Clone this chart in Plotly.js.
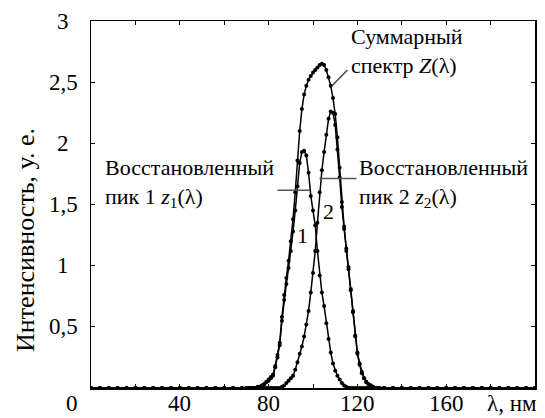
<!DOCTYPE html>
<html>
<head>
<meta charset="utf-8">
<script src="https://cdn.plot.ly/plotly-3.0.1.min.js"></script>
<style>
html,body{margin:0;padding:0;background:#fff;}
#chart{width:545px;height:418px;}
</style>
</head>
<body>
<div id="chart"></div>
<script>
// wavelength, nm
const lambda = [
  0,4,8,12,16,20,24,28,32,36,40,44,48,52,56,60,64,68,
  70,71,72,73,74,75,76,77,78,79,80,81,82,83,84,85,86,87,88,89,
  90,91,92,93,94,95,96,97,98,99,100,101,102,103,104,105,106,107,108,109,
  110,111,112,113,114,115,116,117,118,119,120,121,122,123,124,125,126,127,128,129,130,
  132,136,140,144,148,152,156,160,164,168,172,176,180,184,188,192,196,200
];
// summed spectrum Z(λ)
const sumZ = [
  0,0,0,0,0,0,0,0,0,0,0,0,0,0,0,0,0,0,
  0,0,0,0,0,0.01,0.01,0.02,0.03,0.05,0.07,0.09,0.11,0.18,0.27,0.37,0.58,0.76,0.9,1.04,
  1.2,1.38,1.6,1.86,2.1,2.28,2.4,2.47,2.52,2.55,2.58,2.6,2.62,2.64,2.65,2.64,2.6,2.54,2.47,2.37,
  2.24,2.05,1.8,1.52,1.32,1.14,0.99,0.81,0.63,0.43,0.29,0.2,0.13,0.08,0.05,0.03,0.02,0.01,0,0,0,
  0,0,0,0,0,0,0,0,0,0,0,0,0,0,0,0,0,0
];
// recovered peak 1 z1(λ)
const peak1 = [
  0,0,0,0,0,0,0,0,0,0,0,0,0,0,0,0,0,0,
  0,0,0,0,0,0,0.01,0.02,0.03,0.05,0.06,0.08,0.1,0.17,0.25,0.35,0.55,0.72,0.85,0.98,
  1.12,1.28,1.45,1.65,1.84,1.93,1.94,1.9,1.76,1.57,1.45,1.33,1.12,0.92,0.78,0.67,0.53,0.4,0.29,0.2,
  0.14,0.1,0.07,0.04,0.02,0.01,0,0,0,0,0,0,0,0,0,0,0,0,0,0,0,
  0,0,0,0,0,0,0,0,0,0,0,0,0,0,0,0,0,0
];
// recovered peak 2 z2(λ)
const peak2 = [
  0,0,0,0,0,0,0,0,0,0,0,0,0,0,0,0,0,0,
  0,0,0,0,0,0,0,0,0,0,0,0,0,0,0,0,0.01,0.02,0.04,0.06,
  0.08,0.1,0.15,0.21,0.28,0.34,0.42,0.52,0.63,0.78,0.94,1.12,1.35,1.6,1.78,1.93,2.07,2.2,2.26,2.25,
  2.15,1.95,1.72,1.48,1.3,1.12,0.97,0.8,0.62,0.42,0.28,0.19,0.12,0.08,0.05,0.03,0.02,0.01,0,0,0,
  0,0,0,0,0,0,0,0,0,0,0,0,0,0,0,0,0,0
];
const xTickVals = [0,20,40,60,80,100,120,140,160,180,200];
const xLabelVals = [40,80,120,160];
const xLabelText = ['40','80','120','160'];
const yTickVals = [0,0.5,1,1.5,2,2.5,3];
const yLabelVals = [0.5,1,1.5,2,2.5,3];
const yLabelText = ['0,5','1','1,5','2','2,5','3'];

const serif = 'Liberation Serif, DejaVu Serif, serif';
const lineStyle = {color:'#000', width:1.5};
const markerStyle = {color:'#000', size:4, symbol:'circle'};

const traces = [sumZ, peak1, peak2].map((ys) => ({
  x: lambda, y: ys, type:'scatter', mode:'lines+markers',
  line: lineStyle, marker: markerStyle, showlegend:false, hoverinfo:'skip'
}));

const tickFont = {family:serif, size:23, color:'#000'};
const labelFont = {family:serif, size:22, color:'#000'};
const rowY = -0.041;

const annotations = [];
yLabelVals.forEach((v, i) => annotations.push({
  text: yLabelText[i], xref:'paper', yref:'y', x:-0.063, y:v,
  xanchor:'center', yanchor:'middle', showarrow:false, font:tickFont
}));
xLabelVals.forEach((v, i) => annotations.push({
  text: xLabelText[i], xref:'x', yref:'paper', x:v, y:rowY,
  xanchor:'center', yanchor:'middle', showarrow:false, font:tickFont
}));
annotations.push(
  {text:'0', xref:'paper', yref:'paper', x:-0.043, y:rowY, xanchor:'center', yanchor:'middle', showarrow:false, font:tickFont},
  {text:'λ, нм', xref:'paper', yref:'paper', x:0.948, y:rowY, xanchor:'center', yanchor:'middle', showarrow:false, font:tickFont},
  {text:'Интенсивность, у. е.', xref:'paper', yref:'paper', x:-0.149, y:0.403, textangle:-90, xanchor:'center', yanchor:'middle', showarrow:false, font:{family:serif,size:26,color:'#000'}},
  {text:'Суммарный<br>спектр <i>Z</i>(λ)', xref:'x', yref:'y', x:116.4, y:2.755, xanchor:'left', yanchor:'middle', align:'left', showarrow:false, font:labelFont},
  {text:'Восстановленный<br>пик 2 <i>z</i><sub>2</sub>(λ)', xref:'x', yref:'y', x:119.6, y:1.675, xanchor:'left', yanchor:'middle', align:'left', showarrow:false, font:labelFont},
  {text:'Восстановленный<br>пик 1 <i>z</i><sub>1</sub>(λ)', xref:'x', yref:'y', x:5.4, y:1.675, xanchor:'left', yanchor:'middle', align:'left', showarrow:false, font:labelFont},
  {text:'1', xref:'x', yref:'y', x:95.3, y:1.25, xanchor:'center', yanchor:'middle', showarrow:false, font:labelFont},
  {text:'2', xref:'x', yref:'y', x:107, y:1.44, xanchor:'center', yanchor:'middle', showarrow:false, font:labelFont}
);

const shapes = [
  {type:'line', xref:'x', yref:'y', x0:108.8, y0:2.475, x1:115.5, y1:2.6, line:{color:'#444', width:1.5}},
  {type:'line', xref:'x', yref:'y', x0:102.9, y0:1.713, x1:119.6, y1:1.713, line:{color:'#555', width:1.5}},
  {type:'line', xref:'x', yref:'y', x0:84, y0:1.617, x1:98.4, y1:1.617, line:{color:'#555', width:1.5}}
];

const axisCommon = {
  showline:true, linecolor:'#000', linewidth:1.5, mirror:'ticks',
  ticks:'inside', ticklen:4, tickwidth:1, tickcolor:'#000',
  showgrid:false, zeroline:false, fixedrange:true, showticklabels:false
};

const layout = {
  width:545, height:418,
  margin:{l:91, r:10, t:21, b:30},
  paper_bgcolor:'#fff', plot_bgcolor:'#fff',
  font:{family:serif, color:'#000'},
  xaxis: Object.assign({}, axisCommon, {range:[0,200], tickmode:'array', tickvals:xTickVals}),
  yaxis: Object.assign({}, axisCommon, {range:[0,3], tickmode:'array', tickvals:yTickVals}),
  annotations: annotations,
  shapes: shapes
};

Plotly.newPlot('chart', traces, layout, {staticPlot:true, displayModeBar:false});
</script>
</body>
</html>
